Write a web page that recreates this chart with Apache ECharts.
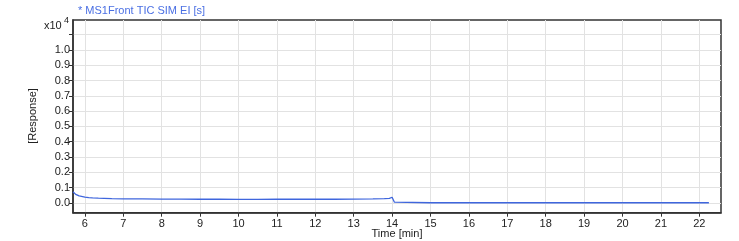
<!DOCTYPE html>
<html><head><meta charset="utf-8">
<script src="https://cdn.jsdelivr.net/npm/echarts@6/dist/echarts.min.js"></script>
<style>html,body{margin:0;padding:0;background:#fff}#c{width:739px;height:241px}</style>
</head><body><div id="c"></div>
<script>
const title = '* MS1Front TIC SIM EI [s]';
const xName = 'Time [min]';
const yName = '[Response]';
const xTicks = [6, 7, 8, 9, 10, 11, 12, 13, 14, 15, 16, 17, 18, 19, 20, 21, 22];
const yTicks = [0, 0.1, 0.2, 0.3, 0.4, 0.5, 0.6, 0.7, 0.8, 0.9, 1.0, 1.1];
const yLabels = [0, 0.1, 0.2, 0.3, 0.4, 0.5, 0.6, 0.7, 0.8, 0.9, 1.0];
const timeMin = [5.69, 5.72, 5.76, 5.8, 5.85, 5.9, 6.0, 6.1, 6.2, 6.35, 6.5, 6.7, 7.0, 7.5, 8.0, 8.5, 9.0, 9.5, 10.0, 10.5, 11.0, 11.5, 12.0, 12.5, 13.0, 13.5, 13.8, 13.93, 14.0, 14.03, 14.06, 14.1, 15, 16, 17, 18, 19, 20, 21, 22, 22.25];
const response = [0.072, 0.062, 0.055, 0.05, 0.045, 0.041, 0.037, 0.034, 0.032, 0.030, 0.029, 0.027, 0.026, 0.025, 0.024, 0.024, 0.023, 0.023, 0.022, 0.022, 0.023, 0.023, 0.023, 0.023, 0.024, 0.025, 0.027, 0.029, 0.036, 0.03, 0.004, 0.0, 0, 0, 0, 0, 0, 0, 0, 0, 0];

const chart = echarts.init(document.getElementById('c'), null, {renderer: 'canvas'});
const txt = '#222';
const font = 'Liberation Sans';
chart.setOption({
  animation: false,
  backgroundColor: '#fff',
  grid: {left: 73, right: 18, top: 20, bottom: 28.3, show: true, borderColor: '#333', borderWidth: 1.5},
  xAxis: {
    type: 'value', min: 5.69, max: 22.565,
    axisLine: {show: true, onZero: false, lineStyle: {color: '#333', width: 1.5}},
    axisTick: {show: true, length: 4, customValues: xTicks, lineStyle: {color: '#333'}},
    axisLabel: {color: txt, fontFamily: font, fontSize: 11, margin: 6, customValues: xTicks, formatter: v => String(v)},
    splitLine: {show: true, lineStyle: {color: '#e2e2e2', width: 1}}
  },
  yAxis: {
    type: 'value', min: -0.065, max: 1.196,
    axisLine: {show: true, onZero: false, lineStyle: {color: '#333', width: 1.5}},
    axisTick: {show: true, length: 4, customValues: yTicks, lineStyle: {color: '#333'}},
    axisLabel: {color: txt, fontFamily: font, fontSize: 11, margin: 3, customValues: yLabels, formatter: v => v.toFixed(1)},
    splitLine: {show: true, lineStyle: {color: '#e2e2e2', width: 1}}
  },
  series: [{
    type: 'line', showSymbol: false, smooth: false,
    data: timeMin.map((t, i) => [t, response[i]]),
    lineStyle: {color: '#3f66dd', width: 1.3},
    itemStyle: {color: '#3f66dd'}
  }],
  graphic: [
    {type: 'text', left: 78, top: 5, style: {text: title, fill: '#4a6fe3', font: '11px "Liberation Sans"'}},
    {type: 'text', left: 44, top: 20, style: {text: 'x10', fill: txt, font: '11px "Liberation Sans"'}},
    {type: 'text', left: 64, top: 16, style: {text: '4', fill: txt, font: '9px "Liberation Sans"'}},
    {type: 'text', x: 33, y: 116, rotation: Math.PI / 2, style: {text: yName, fill: txt, font: '11px "Liberation Sans"', align: 'center', verticalAlign: 'middle'}},
    {type: 'text', x: 397, y: 234, style: {text: xName, fill: txt, font: '11px "Liberation Sans"', align: 'center', verticalAlign: 'middle'}}
  ]
});
</script></body></html>
